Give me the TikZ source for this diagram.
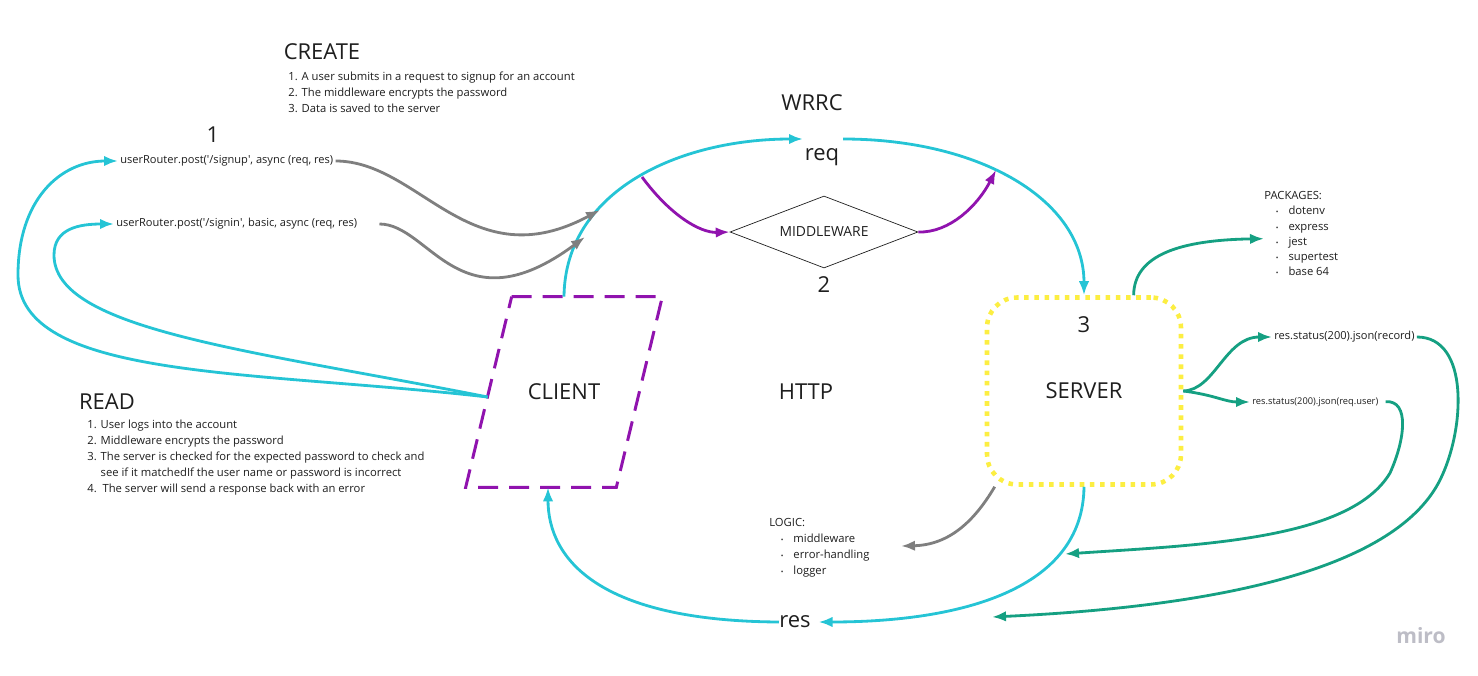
\documentclass[tikz,border=0pt]{standalone}
\usepackage{fontspec}
\setmainfont{Open Sans}
\usepackage{xcolor}
\usepackage{tikz}
\usetikzlibrary{arrows.meta}
\usetikzlibrary{calc}
\usetikzlibrary{positioning}
\usetikzlibrary{shapes.geometric}

\definecolor{flowcyan}{HTML}{25C4D5}
\definecolor{flowpurple}{HTML}{9013AE}
\definecolor{flowyellow}{HTML}{FCEE42}
\definecolor{flowteal}{HTML}{15A082}
\definecolor{flowgray}{HTML}{7F7F7F}
\definecolor{inkgray}{HTML}{1E1E1E}
\definecolor{logogray}{HTML}{BDBDC6}

\newcommand{\listdot}{{\fontsize{4}{4}\selectfont\textbullet}}
\newcommand{\listitem}{\hspace{0.23cm}\listdot\hspace{0.2cm}}

\begin{document}
\begin{tikzpicture}
[
	x = 0.02cm, y = -0.02cm,
	heading/.style = {font = \fontsize{12.5}{15}\selectfont, text = inkgray, inner sep = 0cm},
	note/.style = {font = \fontsize{6.4}{9.07}\selectfont, text = inkgray, align = left, inner sep = 0cm},
	code/.style = {font = \fontsize{6.3}{8}\selectfont, text = inkgray, inner sep = 0.04cm},
	clientline/.style = {draw = flowpurple, line width = 1.7pt, dash pattern = on 0.4cm off 0.22cm},
	serverbox/.style = {rectangle, rounded corners = 0.6cm, draw = flowyellow, line width = 2.6pt, dash pattern = on 2.6pt off 3.2pt, minimum width = 3.88cm, minimum height = 3.74cm, font = \fontsize{12.5}{15}\selectfont, text = inkgray},
	mwbox/.style = {diamond, aspect = 2.6, draw = inkgray, thin, inner sep = 0cm, minimum width = 3.76cm, minimum height = 1.44cm, font = \fontsize{7.9}{9}\selectfont, text = inkgray},
	cyanarc/.style = {draw = flowcyan, line width = 1.6pt, -{Latex[length = 0.28cm, width = 0.21cm]}},
	purplearc/.style = {draw = flowpurple, line width = 1.6pt, -{Latex[length = 0.28cm, width = 0.21cm]}},
	tealarc/.style = {draw = flowteal, line width = 1.6pt, -{Latex[length = 0.28cm, width = 0.21cm]}},
	grayarc/.style = {draw = flowgray, line width = 1.6pt, -{Latex[length = 0.28cm, width = 0.21cm]}},
]

	\useasboundingbox (0,0) rectangle (1478,676);

	% create
	\node (create) [heading] at (322,52) {CREATE};
	\node (createlist) [note, anchor = north west] at (288,72)
	{1. A user submits in a request to signup for an account\\2. The middleware encrypts the password\\3. Data is saved to the server};
	\node (one) [heading] at (213,135) {1};
	\node (signup) [code, anchor = west] at (118,161) {userRouter.post(\textquotesingle/signup\textquotesingle, async (req, res)};
	\node (signin) [code, anchor = west] at (114,224) {userRouter.post(\textquotesingle/signin\textquotesingle, basic, async (req, res)};

	% read
	\node (read) [heading] at (107,402) {READ};
	\node (readlist) [note, anchor = north west] at (87,420)
	{1. User logs into the account\\2. Middleware encrypts the password\\3. The server is checked for the expected password to check and\\\phantom{3. }see if it matchedIf the user name or password is incorrect\\4.\ \ The server will send a response back with an error};

	% wrrc
	\node (client) [heading, minimum width = 3.92cm, minimum height = 3.8cm] at (564,392) {CLIENT};
	\draw [clientline] ($(client.north west)+(46,0)$) -- (client.north east)
		-- ($(client.south east)+(-46,0)$) -- (client.south west) -- cycle;
	\node (wrrc) [heading] at (812,103) {WRRC};
	\node (req) [heading] at (822,157) {req};
	\node (mw) [mwbox] at (824,232) {MIDDLEWARE};
	\node (two) [heading, below = 0.16cm of mw] {2};
	\node (http) [heading] at (806,392) {HTTP};
	\node (server) [serverbox] at (1084,391) {SERVER};
	\node (three) [heading, below = 0.42cm of server.north] {3};
	\node (res) [heading] at (795,622) {res};

	% packages and logic
	\node (packages) [note, font = \fontsize{6.4}{8.7}\selectfont, anchor = north west] at (1264,191)
	{PACKAGES:\\\listitem dotenv\\\listitem express\\\listitem jest\\\listitem supertest\\\listitem base 64};
	\node (logic) [note, anchor = north west] at (769,518)
	{LOGIC:\\\listitem middleware\\\listitem error-handling\\\listitem logger};
	\node (record) [code, anchor = west] at (1272,337) {res.status(200).json(record)};
	\node (requser) [code, font = \fontsize{5.3}{6}\selectfont, anchor = west] at (1250,402) {res.status(200).json(req.user)};

	\node (miro) [font = \fontsize{12}{14}\selectfont\bfseries, text = logogray] at (1421,636) {miro};

	% free ends
	\coordinate (reqin) at (803,139);
	\coordinate (reqout) at (843,139);
	\coordinate (upin) at (600,210);
	\coordinate (inin) at (585,237);
	\coordinate (mwin) at (642,177);
	\coordinate (mwout) at (996,170);
	\coordinate (logicin) at (901,546);
	\coordinate (userback) at (1065,554);
	\coordinate (recordback) at (992,617);

	% request
	\draw [cyanarc] (client.north) .. controls (565,190) and (680,139) .. (reqin);
	\draw [cyanarc] (reqout) .. controls (980,139) and (1084,200) .. (server.north);
	\draw [purplearc] (mwin) .. controls (670,215) and (700,233) .. (mw.west);
	\draw [purplearc] (mw.east) .. controls (950,233) and (978,205) .. (mwout);

	% routes
	\draw [grayarc] (signup.east) .. controls (420,161) and (470,280) .. (upin);
	\draw [grayarc, shorten < = 0.4cm] (signin.east) .. controls (430,224) and (460,330) .. (inin);
	\draw [cyanarc] ($(client.west)+(22,5)$) .. controls (250,370) and (18,380) .. (18,275) .. controls (18,200) and (60,161) .. (signup.west);
	\draw [cyanarc] ($(client.west)+(22,5)$) .. controls (250,350) and (54,330) .. (54,255) .. controls (54,228) and (80,224) .. (signin.west);

	% server
	\draw [tealarc] ($(server.north)!0.5!(server.north east)$) .. controls (1134,255) and (1180,240) .. ($(packages.west)+(0,5)$);
	\draw [tealarc] (server.east) .. controls (1215,390) and (1225,337) .. (record.west);
	\draw [tealarc] (server.east) .. controls (1215,395) and (1225,402) .. (requser.west);
	\draw [tealarc] (record.east) .. controls (1470,337) and (1465,430) .. (1440,480) .. controls (1400,560) and (1250,605) .. (recordback);
	\draw [tealarc, shorten < = 0.1cm] (requser.east) .. controls (1410,400) and (1405,440) .. (1390,473) .. controls (1350,540) and (1200,545) .. (userback);
	\draw [grayarc] (server.227) .. controls (975,520) and (950,545) .. (logicin);

	% response
	\draw [cyanarc, shorten > = 0.15cm] (server.south) .. controls (1083,590) and (960,622) .. (res.east);
	\draw [cyanarc] (res.west) .. controls (600,621) and (548,560) .. ($(client.south)+(-16,0)$);

\end{tikzpicture}
\end{document}
